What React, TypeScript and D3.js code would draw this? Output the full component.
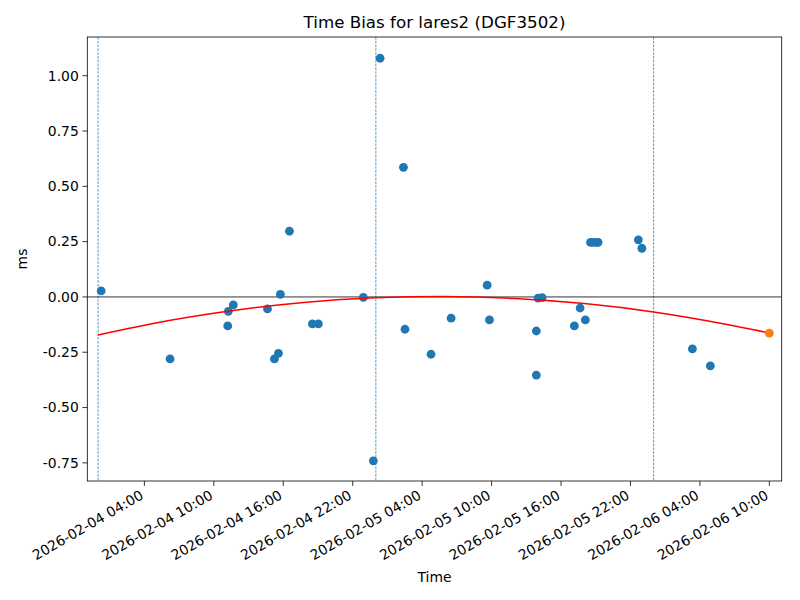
import React from "react";
import * as d3 from "d3";

const title = "Time Bias for lares2 (DGF3502)";
const xLabel = "Time";
const yLabel = "ms";

// Observation times and time-bias values (ms)
const obsTimes = [
  "2026-02-04T00:16", "2026-02-04T06:13", "2026-02-04T11:12", "2026-02-04T11:15",
  "2026-02-04T11:41", "2026-02-04T14:38", "2026-02-04T15:14", "2026-02-04T15:35",
  "2026-02-04T15:45", "2026-02-04T16:32", "2026-02-04T18:31", "2026-02-04T19:02",
  "2026-02-04T22:55", "2026-02-04T23:47", "2026-02-05T00:22", "2026-02-05T02:23",
  "2026-02-05T02:31", "2026-02-05T04:46", "2026-02-05T06:30", "2026-02-05T09:37",
  "2026-02-05T09:49", "2026-02-05T13:52", "2026-02-05T13:52", "2026-02-05T14:01",
  "2026-02-05T14:22", "2026-02-05T17:09", "2026-02-05T17:39", "2026-02-05T18:06",
  "2026-02-05T18:33", "2026-02-05T18:46", "2026-02-05T19:02", "2026-02-05T19:12",
  "2026-02-05T22:41", "2026-02-05T22:59", "2026-02-06T03:21", "2026-02-06T04:54",
];
const obsValues = [
  0.027, -0.28, -0.131, -0.065,
  -0.036, -0.054, -0.28, -0.255,
  0.012, 0.297, -0.122, -0.122,
  -0.002, -0.741, 1.079, 0.586,
  -0.146, -0.259, -0.096, 0.053,
  -0.104, -0.154, -0.353, -0.005,
  -0.003, -0.131, -0.05, -0.104,
  0.247, 0.247, 0.247, 0.247,
  0.258, 0.22, -0.235, -0.312,
];

// Predicted point (orange)
const predTime = ["2026-02-06T10:00"];
const predValue = [-0.164];

// Fit curve
const fitTimes = [
  "2026-02-04T00:00", "2026-02-04T06:00", "2026-02-04T12:00", "2026-02-04T18:00",
  "2026-02-05T00:00", "2026-02-05T06:00", "2026-02-05T12:00", "2026-02-05T18:00",
  "2026-02-06T00:00", "2026-02-06T06:00", "2026-02-06T10:00",
];
const fitValues = [-0.172, -0.108, -0.059, -0.024, -0.004, 0.002, -0.007, -0.030, -0.068, -0.121, -0.163];

// Day boundaries (dashed lines)
const dayLines = ["2026-02-04T00:00", "2026-02-05T00:00", "2026-02-06T00:00"];

const xTicks = [
  "2026-02-04T04:00", "2026-02-04T10:00", "2026-02-04T16:00", "2026-02-04T22:00",
  "2026-02-05T04:00", "2026-02-05T10:00", "2026-02-05T16:00", "2026-02-05T22:00",
  "2026-02-06T04:00", "2026-02-06T10:00",
];
const yTicks = [-0.75, -0.5, -0.25, 0, 0.25, 0.5, 0.75, 1.0];

const xDomain = ["2026-02-03T23:04", "2026-02-06T11:04"];
const yDomain = [-0.832, 1.175];

const parse = (s: string) => new Date(s + ":00Z");
const fmt = d3.utcFormat("%Y-%m-%d %H:%M");

export default function App() {
  const W = 800, H = 600;
  const L = 87.3, R = 781.7, T = 37, B = 481;
  const x = d3.scaleUtc().domain(xDomain.map(parse)).range([L, R]);
  const y = d3.scaleLinear().domain(yDomain).range([B, T]);
  const font = "DejaVu Sans, sans-serif";
  const C0 = "#1f77b4";

  const fitLine = d3
    .line<number>()
    .x((_, i) => x(parse(fitTimes[i])))
    .y((v) => y(v))
    .curve(d3.curveNatural)(fitValues) as string;

  return (
    <svg width={W} height={H} style={{ position: "absolute", left: 0, top: 0 }} fontFamily={font}>
      <rect x={0} y={0} width={W} height={H} fill="#fff" />
      <defs>
        <clipPath id="plot">
          <rect x={L} y={T} width={R - L} height={B - T} />
        </clipPath>
      </defs>
      <g clipPath="url(#plot)">
        {dayLines.map((d) => (
          <line key={d} x1={x(parse(d))} x2={x(parse(d))} y1={T} y2={B}
            stroke={C0} strokeWidth={1} strokeDasharray="2.6,1.2" opacity={0.75} />
        ))}
        <line x1={L} x2={R} y1={y(0)} y2={y(0)} stroke="#000" strokeWidth={0.8} />
        {obsTimes.map((t, i) => (
          <circle key={i} cx={x(parse(t))} cy={y(obsValues[i])} r={4.4} fill={C0} />
        ))}
        <path d={fitLine} fill="none" stroke="#ff0000" strokeWidth={1.5} />
        {predTime.map((t, i) => (
          <circle key={"p" + i} cx={x(parse(t))} cy={y(predValue[i])} r={4.4} fill="#ff7f0e" />
        ))}
      </g>
      <rect x={L} y={T} width={R - L} height={B - T} fill="none" stroke="#000" strokeWidth={0.8} />
      {yTicks.map((v) => (
        <g key={v}>
          <line x1={L - 4.9} x2={L} y1={y(v)} y2={y(v)} stroke="#000" strokeWidth={0.8} />
          <text x={L - 8.5} y={y(v)} dy="0.35em" textAnchor="end" fontSize={13.9} fill="#000">
            {v.toFixed(2)}
          </text>
        </g>
      ))}
      {xTicks.map((t) => {
        const px = x(parse(t));
        return (
          <g key={t}>
            <line x1={px} x2={px} y1={B} y2={B + 4.9} stroke="#000" strokeWidth={0.8} />
            <text transform={`translate(${px},${B + 17}) rotate(-30)`} textAnchor="end"
              fontSize={13.9} fill="#000">
              {fmt(parse(t))}
            </text>
          </g>
        );
      })}
      <text x={(L + R) / 2} y={28} textAnchor="middle" fontSize={16.7} fill="#000">{title}</text>
      <text x={(L + R) / 2} y={582} textAnchor="middle" fontSize={13.9} fill="#000">{xLabel}</text>
      <text transform={`translate(27,${(T + B) / 2}) rotate(-90)`} textAnchor="middle" fontSize={13.9} fill="#000">{yLabel}</text>
    </svg>
  );
}
